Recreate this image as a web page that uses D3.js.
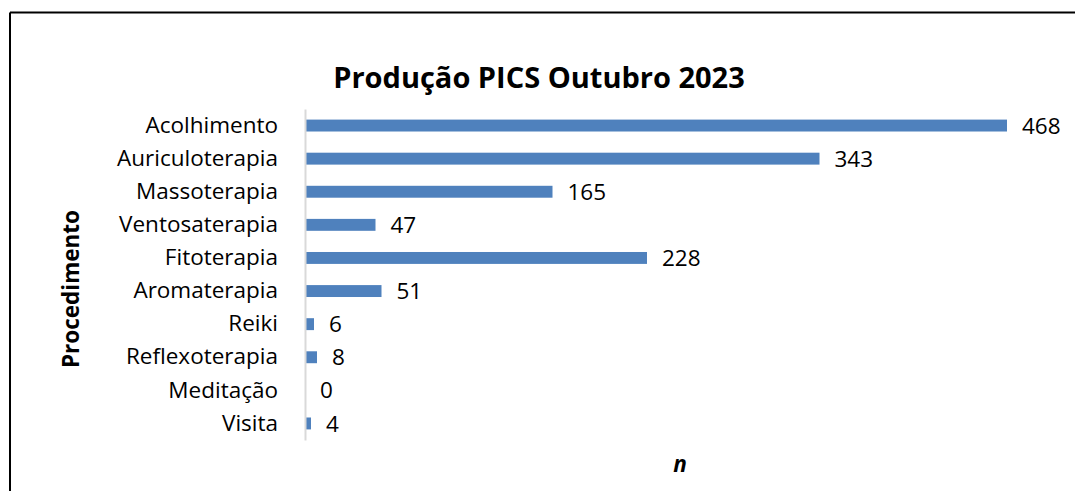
<!DOCTYPE html>
<html>
<head>
    <meta charset="utf-8">
    <script src="https://d3js.org/d3.v7.min.js"></script>
    <style>
        body { margin: 0; background: #fff; }
        .cat { font-family: "Open Sans", sans-serif; font-size: 22.5px; fill: #000; }
        .val { font-family: "Open Sans", sans-serif; font-size: 22.5px; fill: #000; }
        .title { font-family: "Open Sans", sans-serif; font-size: 29px; font-weight: bold; fill: #000; }
        .axis-title { font-family: "Open Sans", sans-serif; font-size: 22.5px; font-weight: bold; fill: #000; }
    </style>
</head>
<body>
<script>
    // chart data
    let categories = ["Acolhimento", "Auriculoterapia", "Massoterapia", "Ventosaterapia", "Fitoterapia",
        "Aromaterapia", "Reiki", "Reflexoterapia", "Meditação", "Visita"];
    let values = [468, 343, 165, 47, 228, 51, 6, 8, 0, 4];

    let width = 1075, height = 491;

    let svg = d3.select("body").append("svg")
        .attr("width", width)
        .attr("height", height);

    // frame (only top and left edges show in the picture)
    svg.append("line").attr("x1", 10).attr("y1", 12.5).attr("x2", width).attr("y2", 12.5)
        .attr("stroke", "#000").attr("stroke-width", 2);
    svg.append("line").attr("x1", 10).attr("y1", 12.5).attr("x2", 10).attr("y2", height)
        .attr("stroke", "#000").attr("stroke-width", 2);

    let x = d3.scaleLinear().domain([0, 500]).range([305, 1055]);
    let y = d3.scaleBand().domain(categories).range([109, 440]).paddingInner(0.64).paddingOuter(0.32);

    // title
    svg.append("text").attr("class", "title")
        .attr("x", 539).attr("y", 88)
        .attr("text-anchor", "middle")
        .text("Produção PICS Outubro 2023");

    // bars
    svg.selectAll(".bar")
        .data(values)
        .enter().append("rect")
        .attr("class", "bar")
        .attr("x", x(0))
        .attr("y", function(d, i) { return y(categories[i]); })
        .attr("width", function(d) { return x(d) - x(0); })
        .attr("height", y.bandwidth())
        .attr("fill", "#4f81bd");

    // category axis
    let yAxis = svg.append("g")
        .attr("transform", "translate(" + x(0) + ",0)")
        .call(d3.axisLeft(y).tickSize(0).tickPadding(27));
    yAxis.select(".domain").attr("stroke", "#d9d9d9").attr("stroke-width", 2);
    yAxis.selectAll("text").attr("class", "cat").attr("font-size", null).attr("font-family", null);

    // value labels
    svg.selectAll(".val")
        .data(values)
        .enter().append("text")
        .attr("class", "val")
        .attr("x", function(d) { return x(d) + 15; })
        .attr("y", function(d, i) { return y(categories[i]) + y.bandwidth() / 2; })
        .attr("dy", "0.36em")
        .text(function(d) { return d; });

    // axis titles
    svg.append("text").attr("class", "axis-title")
        .attr("transform", "translate(79,289) rotate(-90)")
        .attr("text-anchor", "middle")
        .text("Procedimento");

    svg.append("text").attr("class", "axis-title")
        .attr("x", 680).attr("y", 472)
        .attr("text-anchor", "middle")
        .attr("font-style", "italic")
        .attr("font-size", "24px")
        .text("n");
</script>
</body>
</html>
